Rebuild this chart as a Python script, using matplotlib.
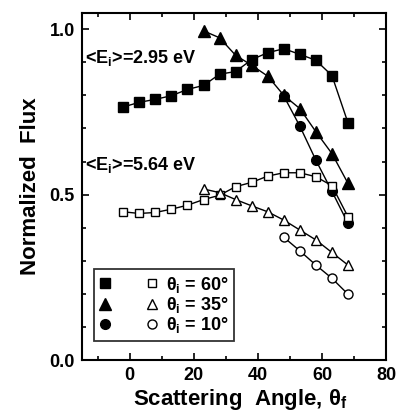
import matplotlib
matplotlib.use("Agg")
import matplotlib.pyplot as plt
from matplotlib.legend_handler import HandlerTuple
from matplotlib.ticker import MultipleLocator

plt.rcParams["font.family"] = ["Liberation Sans", "DejaVu Sans"]
plt.rcParams["font.weight"] = "bold"
plt.rcParams["mathtext.fontset"] = "custom"
plt.rcParams["mathtext.rm"] = "Liberation Sans:bold"
plt.rcParams["mathtext.it"] = "Liberation Sans:bold"
plt.rcParams["mathtext.bf"] = "Liberation Sans:bold"

# ---- data: <Ei> = 2.95 eV (filled) ----
ang_sq = [-2, 3, 8, 13, 18, 23, 28, 33, 38, 43, 48, 53, 58, 63, 68]
flux_sq_hi = [0.765, 0.779, 0.788, 0.799, 0.818, 0.830, 0.864, 0.872, 0.908,
              0.929, 0.941, 0.924, 0.906, 0.860, 0.717]
ang_tri = [23, 28, 33, 38, 43, 48, 53, 58, 63, 68]
flux_tri_hi = [0.995, 0.974, 0.921, 0.891, 0.858, 0.800, 0.760, 0.690, 0.624, 0.534]
ang_cir = [48, 53, 58, 63, 68]
flux_cir_hi = [0.798, 0.707, 0.604, 0.510, 0.413]

# ---- data: <Ei> = 5.64 eV (open) ----
flux_sq_lo = [0.448, 0.443, 0.446, 0.456, 0.468, 0.485, 0.498, 0.524, 0.537,
              0.556, 0.566, 0.566, 0.554, 0.527, 0.433]
flux_tri_lo = [0.517, 0.506, 0.485, 0.466, 0.448, 0.423, 0.393, 0.363, 0.325, 0.287]
flux_cir_lo = [0.371, 0.330, 0.287, 0.247, 0.199]

labels = [r"$\theta_{i}$ = 60°", r"$\theta_{i}$ = 35°", r"$\theta_{i}$ = 10°"]

fig = plt.figure(figsize=(3.96, 4.15), dpi=100)
ax = fig.add_axes([0.206, 0.1325, 0.770, 0.837])

line_kw = dict(color="black", lw=1.0)
h = []
for x, y, m, ms in [(ang_sq, flux_sq_hi, "s", 7), (ang_tri, flux_tri_hi, "^", 8),
                    (ang_cir, flux_cir_hi, "o", 7)]:
    ax.plot(x, y, **line_kw)
    h.append(ax.plot(x, y, ls="none", marker=m, ms=ms, mfc="black", mec="black")[0])
ho = []
for x, y, m, ms in [(ang_sq, flux_sq_lo, "s", 6), (ang_tri, flux_tri_lo, "^", 7.5),
                    (ang_cir, flux_cir_lo, "o", 6.5)]:
    ax.plot(x, y, **line_kw)
    ho.append(ax.plot(x, y, ls="none", marker=m, ms=ms, mfc="white", mec="black",
                      mew=1.0)[0])

ax.set_xlim(-15, 80)
ax.set_ylim(0, 1.05)
ax.xaxis.set_major_locator(MultipleLocator(20))
ax.xaxis.set_minor_locator(MultipleLocator(10))
ax.yaxis.set_major_locator(MultipleLocator(0.5))
ax.yaxis.set_minor_locator(MultipleLocator(0.1))
ax.tick_params(which="both", direction="in", top=True, right=True, labelsize=13, width=1.2)
ax.tick_params(which="major", length=5, pad=5)
ax.tick_params(which="minor", length=3)
for s in ax.spines.values():
    s.set_linewidth(1.5)

ax.set_xlabel(r"Scattering  Angle, $\theta_{f}$", fontsize=16, fontweight="bold")
ax.xaxis.set_label_coords(0.52, -0.078)
ax.set_ylabel("Normalized  Flux", fontsize=16, fontweight="bold", labelpad=6)

ax.text(-13.8, 0.912, r"<E$_{i}$>=2.95 eV", fontsize=13, fontweight="bold", va="center")
ax.text(-13.8, 0.589, r"<E$_{i}$>=5.64 eV", fontsize=13, fontweight="bold", va="center")

leg = ax.legend([(a, b) for a, b in zip(h, ho)], labels, loc="lower left",
                bbox_to_anchor=(0.04, 0.055), borderaxespad=0,
                handler_map={tuple: HandlerTuple(ndivide=None, pad=2.0)},
                handlelength=3.2, handletextpad=0.5, labelspacing=0.02, fontsize=13,
                frameon=True, fancybox=False, edgecolor="black", borderpad=0.3)
leg.get_frame().set_linewidth(1.3)

fig.savefig("out.png", dpi=100)
